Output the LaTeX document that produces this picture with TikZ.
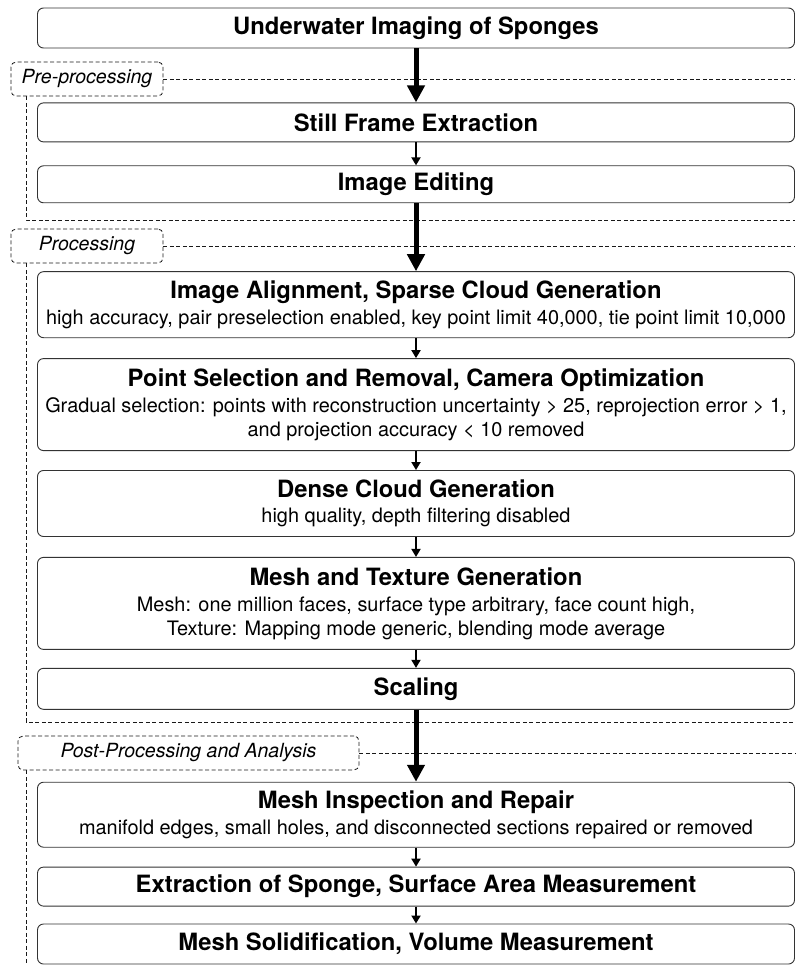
\documentclass[tikz,border=0pt]{standalone}
\usepackage{fontspec}
\setmainfont{TeX Gyre Heros}
\usetikzlibrary{arrows.meta, positioning}

\newcommand{\stagetitle}[1]{{\fontsize{23.8}{27}\selectfont\bfseries #1}}

\begin{document}
\begin{tikzpicture}[
  stage/.style={draw=black!80, line width=0.9pt, rounded corners=6pt, minimum width=757pt, inner sep=0pt, align=center, font=\fontsize{19.9}{23.5}\selectfont},
  phase/.style={draw=black!90, line width=0.8pt, dash pattern=on 4pt off 2.5pt, rounded corners=5pt, inner sep=0pt, minimum height=34pt, font=\fontsize{19.5}{23.5}\selectfont\itshape},
  sep/.style={black!90, line width=0.8pt, dash pattern=on 4pt off 2.5pt},
  bigarrow/.style={-{Triangle[length=17pt,width=17pt]}, line width=5pt},
  smallarrow/.style={-{Triangle[length=8pt,width=9pt]}, line width=1.8pt}]
  \useasboundingbox (0,0) rectangle (795pt,-965pt);

  % stages
  \node[stage, minimum height=40pt] (imaging) at (416pt,-28pt) {\stagetitle{Underwater Imaging of Sponges}};
  \node[stage, minimum height=39pt, below=54pt of imaging] (frames) {\stagetitle{Still Frame Extraction}};
  \node[stage, minimum height=37pt, below=23pt of frames] (editing) {\stagetitle{Image Editing}};
  \node[stage, minimum height=66pt, below=68pt of editing] (align) {\stagetitle{Image Alignment, Sparse Cloud Generation}\\[2pt]
    high accuracy, pair preselection enabled, key point limit 40,000, tie point limit 10,000};
  \node[stage, minimum height=92pt, below=20pt of align] (points) {\stagetitle{Point Selection and Removal, Camera Optimization}\\[3pt]
    Gradual selection: points with reconstruction uncertainty > 25, reprojection error > 1,\\
    and projection accuracy < 10 removed};
  \node[stage, minimum height=66pt, below=19pt of points] (dense) {\stagetitle{Dense Cloud Generation}\\[2pt]
    high quality, depth filtering disabled};
  \node[stage, minimum height=92pt, below=20pt of dense] (mesh) {\stagetitle{Mesh and Texture Generation}\\[3pt]
    Mesh: one million faces, surface type arbitrary, face count high,\\
    Texture: Mapping mode generic, blending mode average};
  \node[stage, minimum height=41pt, below=18pt of mesh] (scaling) {\stagetitle{Scaling}};
  \node[stage, minimum height=65pt, below=72pt of scaling] (repair) {\stagetitle{Mesh Inspection and Repair}\\[2pt]
    manifold edges, small holes, and disconnected sections repaired or removed};
  \node[stage, minimum height=39pt, below=19pt of repair] (extract) {\stagetitle{Extraction of Sponge, Surface Area Measurement}};
  \node[stage, minimum height=40pt, below=17pt of extract] (solid) {\stagetitle{Mesh Solidification, Volume Measurement}};

  % phases
  \node[phase, minimum width=152pt] (pre) at (87pt,-79pt) {Pre-processing};
  \node[phase, minimum width=152pt] (proc) at (87pt,-246pt) {Processing};
  \node[phase, minimum width=341pt] (post) at (188.5pt,-753pt) {Post-Processing and Analysis};

  \coordinate (rail) at (26pt,0);
  \coordinate (preend) at (795pt,-220pt);
  \coordinate (procend) at (795pt,-722pt);
  \coordinate (postend) at (26pt,-965pt);

  \draw[sep] (pre.east) -- (pre.east -| preend);
  \draw[sep] (pre.south -| rail) |- (preend);
  \draw[sep] (proc.east) -- (proc.east -| preend);
  \draw[sep] (proc.south -| rail) |- (procend);
  \draw[sep] (post.east) -- (post.east -| preend);
  \draw[sep] (post.south -| rail) -- (postend);

  % flow
  \draw[bigarrow] (imaging) -- (frames);
  \draw[smallarrow] (frames) -- (editing);
  \draw[bigarrow] (editing) -- (align);
  \draw[smallarrow] (align) -- (points);
  \draw[smallarrow] (points) -- (dense);
  \draw[smallarrow] (dense) -- (mesh);
  \draw[smallarrow] (mesh) -- (scaling);
  \draw[bigarrow] (scaling) -- (repair);
  \draw[smallarrow] (repair) -- (extract);
  \draw[smallarrow] (extract) -- (solid);
\end{tikzpicture}
\end{document}
